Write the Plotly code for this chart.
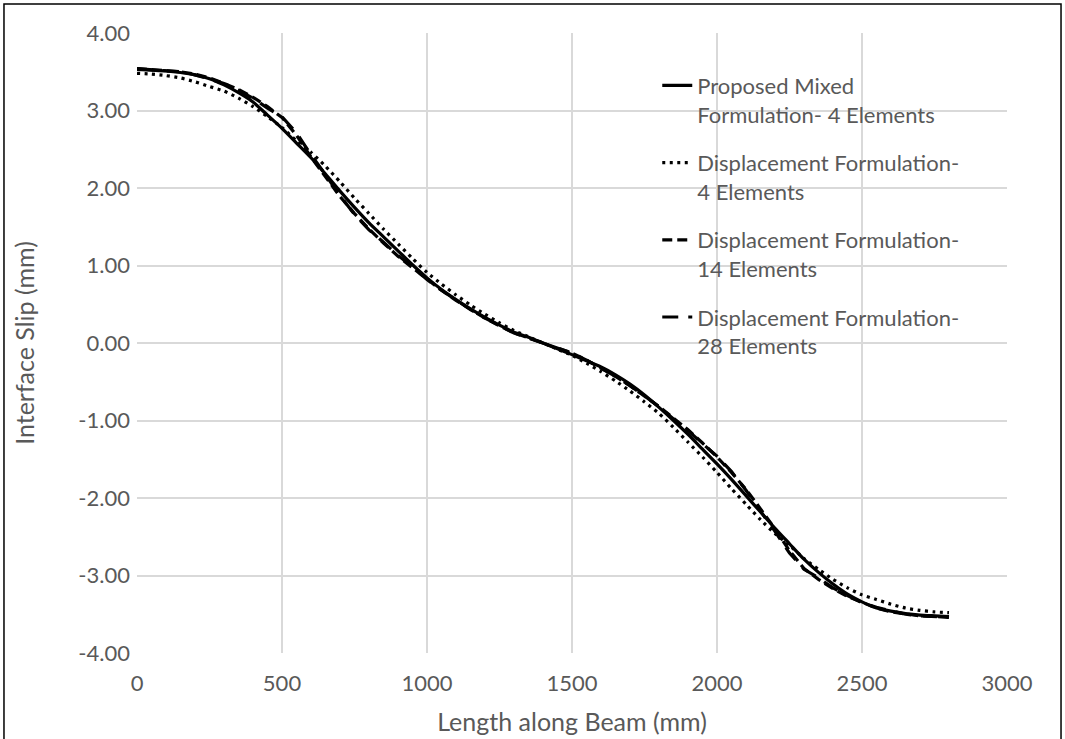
import plotly.graph_objects as go

# Length along beam (mm)
x_mm = [0, 50, 100, 150, 200, 250, 300, 350, 400, 450, 500, 550, 600, 650, 700,
        750, 800, 850, 900, 950, 1000, 1050, 1100, 1150, 1200, 1250, 1300, 1350, 1400,
        1450, 1500, 1550, 1600, 1650, 1700, 1750, 1800, 1850, 1900, 1950, 2000, 2050,
        2100, 2150, 2200, 2250, 2300, 2350, 2400, 2450, 2500, 2550, 2600, 2650, 2700,
        2750, 2800]

mixed_4 = [3.53, 3.52, 3.51, 3.49, 3.46, 3.41, 3.33, 3.23, 3.11, 2.94, 2.77, 2.58, 2.39,
           2.18, 1.96, 1.75, 1.55, 1.37, 1.19, 1.01, 0.84, 0.69, 0.56, 0.44, 0.33, 0.23,
           0.14, 0.075, 0.00, -0.075, -0.15, -0.23, -0.31, -0.41, -0.53, -0.67, -0.83,
           -1.00, -1.18, -1.37, -1.56, -1.76, -1.97, -2.18, -2.39, -2.59, -2.79, -2.96,
           -3.11, -3.24, -3.34, -3.42, -3.46, -3.49, -3.51, -3.52, -3.53]

disp_4 = [3.48, 3.47, 3.45, 3.42, 3.37, 3.31, 3.25, 3.16, 3.05, 2.92, 2.78, 2.61, 2.46,
          2.28, 2.08, 1.87, 1.67, 1.47, 1.28, 1.09, 0.91, 0.76, 0.62, 0.49, 0.37, 0.26,
          0.16, 0.08, 0.00, -0.08, -0.16, -0.26, -0.37, -0.49, -0.62, -0.76, -0.91,
          -1.09, -1.28, -1.47, -1.67, -1.88, -2.08, -2.28, -2.46, -2.61, -2.78, -2.92,
          -3.05, -3.16, -3.25, -3.31, -3.37, -3.42, -3.45, -3.47, -3.48]

disp_14 = [3.54, 3.53, 3.52, 3.50, 3.47, 3.42, 3.35, 3.27, 3.17, 3.05, 2.91, 2.68, 2.40,
           2.14, 1.89, 1.67, 1.47, 1.29, 1.12, 0.97, 0.82, 0.68, 0.55, 0.43, 0.32, 0.22,
           0.13, 0.065, 0.00, -0.065, -0.13, -0.22, -0.32, -0.43, -0.55, -0.68, -0.82,
           -0.97, -1.12, -1.29, -1.47, -1.67, -1.89, -2.14, -2.40, -2.68, -2.91, -3.05,
           -3.17, -3.27, -3.35, -3.42, -3.47, -3.50, -3.52, -3.53, -3.54]

disp_28 = [3.54, 3.53, 3.52, 3.50, 3.46, 3.41, 3.35, 3.26, 3.16, 3.03, 2.92, 2.71, 2.43,
           2.17, 1.90, 1.66, 1.46, 1.30, 1.13, 0.98, 0.82, 0.68, 0.55, 0.43, 0.32, 0.22,
           0.13, 0.065, 0.00, -0.065, -0.13, -0.22, -0.32, -0.43, -0.55, -0.68, -0.82,
           -0.98, -1.13, -1.30, -1.46, -1.66, -1.90, -2.17, -2.43, -2.71, -2.92, -3.03,
           -3.16, -3.26, -3.35, -3.41, -3.46, -3.50, -3.52, -3.53, -3.54]

series_names = [
    "Proposed Mixed<br>Formulation- 4 Elements",
    "Displacement Formulation-<br>4 Elements",
    "Displacement Formulation-<br>14 Elements",
    "Displacement Formulation-<br>28 Elements",
]

x_ticks = [0, 500, 1000, 1500, 2000, 2500, 3000]
y_ticks = [-4, -3, -2, -1, 0, 1, 2, 3, 4]

FONT = "Lato"
TXT = "#595959"
GRID = "#d9d9d9"

fig = go.Figure()
styles = [
    dict(dash="solid", shape="spline"),
    dict(dash="3px,4.5px", shape="spline"),
    dict(dash="10px,5px", shape="linear"),
    dict(dash="16px,10px", shape="linear"),
]
for i, (ys, name, st) in enumerate(zip([mixed_4, disp_4, disp_14, disp_28], series_names, styles)):
    fig.add_trace(go.Scatter(
        x=x_mm, y=ys, mode="lines", name=name, legendgroup=f"g{i}",
        line=dict(color="black", width=3.2, dash=st["dash"], shape=st["shape"], smoothing=0.6),
    ))

fig.update_layout(
    width=1065, height=739,
    margin=dict(l=137, r=58, t=33, b=86, autoexpand=False),
    paper_bgcolor="white", plot_bgcolor="white",
    font=dict(family=FONT, color=TXT, size=22),
    showlegend=True,
    legend=dict(
        x=0.598, y=0.949, xanchor="left", yanchor="top",
        bgcolor="rgba(0,0,0,0)", valign="top",
        font=dict(family=FONT, size=22, color=TXT),
        tracegroupgap=17, itemwidth=30,
    ),
    xaxis=dict(
        range=[0, 3000], tickvals=x_ticks, ticktext=[str(v) for v in x_ticks],
        showgrid=True, gridcolor=GRID, gridwidth=2, zeroline=False, showline=False,
        ticks="", ticklabelstandoff=15, automargin=False,
        tickfont=dict(family=FONT, size=22, color=TXT),
        title=dict(text="Length along Beam (mm)", font=dict(family=FONT, size=25, color=TXT), standoff=18),
    ),
    yaxis=dict(
        range=[-4, 4], tickvals=y_ticks, ticktext=[f"{v:.2f}" for v in y_ticks],
        showgrid=True, gridcolor=GRID, gridwidth=2, zeroline=True, zerolinecolor=GRID,
        zerolinewidth=2, showline=False, ticks="", ticklabelstandoff=6, automargin=False,
        tickfont=dict(family=FONT, size=22, color=TXT),
        title=dict(text="Interface Slip (mm)", font=dict(family=FONT, size=25, color=TXT), standoff=36),
    ),
    shapes=[dict(type="rect", xref="paper", yref="paper",
                 x0=-0.1529, x1=1.0621, y0=-0.16, y1=1.0468,
                 line=dict(color="black", width=1.5), fillcolor="rgba(0,0,0,0)", layer="below")],
)

fig.write_html("out.html")
